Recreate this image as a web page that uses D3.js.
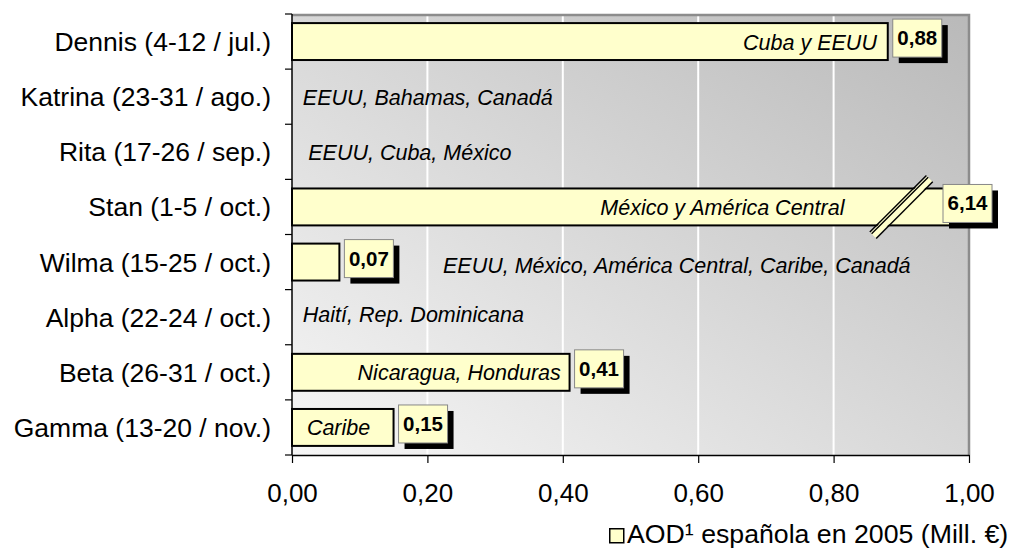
<!DOCTYPE html>
<html>
<head>
<meta charset="utf-8">
<script src="https://cdn.jsdelivr.net/npm/d3@7"></script>
<style>
  body { margin: 0; background: #fff; }
  svg { display: block; font-family: "Liberation Sans", Arial, sans-serif; }
</style>
</head>
<body>
<script>
const hurricanes = ['Dennis (4-12 / jul.)', 'Katrina (23-31 / ago.)', 'Rita (17-26 / sep.)', 'Stan (1-5 / oct.)',
                    'Wilma (15-25 / oct.)', 'Alpha (22-24 / oct.)', 'Beta (26-31 / oct.)', 'Gamma (13-20 / nov.)']
const aod = [0.88, null, null, 6.14, 0.07, null, 0.41, 0.15]
const regions = ['Cuba y EEUU', 'EEUU, Bahamas, Canadá', 'EEUU, Cuba, México', 'México y América Central',
                 'EEUU, México, América Central, Caribe, Canadá', 'Haití, Rep. Dominicana', 'Nicaragua, Honduras', 'Caribe']
const xTicks = [0, 0.2, 0.4, 0.6, 0.8, 1]
const legendLabel = 'AOD¹ española en 2005 (Mill. €)'

// where each region note sits: [value on the x scale, anchor, vertical nudge]
const noteLayout = [[0.864, 'end', 8], [0.016, 'start', 8], [0.024, 'start', 8], [0.816, 'end', 8],
                    [0.223, 'start', 11], [0.016, 'start', 5], [0.397, 'end', 8], [0.022, 'start', 8]]
const breakAt = 0.9

const W = 1011, H = 548
const pLeft = 292, pRight = 969, pTop = 14, pBottom = 455

const svg = d3.select('body').append('svg').attr('width', W).attr('height', H)

const x = d3.scaleLinear().domain([0, 1]).range([pLeft, pRight]).clamp(true)
const y = d3.scaleBand().domain(hurricanes).range([pTop, pBottom]).paddingInner(0.33).paddingOuter(0.165)
const fmt = d => d3.format('.2f')(d).replace('.', ',')

const defs = svg.append('defs')
const grad = defs.append('linearGradient').attr('id', 'bg')
                 .attr('x1', 0).attr('y1', 1).attr('x2', 1).attr('y2', 0)
grad.append('stop').attr('offset', 0).attr('stop-color', '#f6f6f6')
grad.append('stop').attr('offset', 1).attr('stop-color', '#b9b9b9')

// plot background
svg.append('rect')
   .attr('x', pLeft).attr('y', pTop)
   .attr('width', pRight - pLeft).attr('height', pBottom - pTop)
   .attr('fill', 'url(#bg)')

// grid
svg.append('g')
   .selectAll('line')
   .data(xTicks.slice(1, -1))
   .join('line')
    .attr('x1', d => x(d)).attr('x2', d => x(d))
    .attr('y1', pTop).attr('y2', pBottom)
    .attr('stroke', '#fff').attr('stroke-width', 2)

// gray frame top / right
svg.append('path')
   .attr('d', `M${pLeft},${pTop + 1}H${pRight}V${pBottom}`)
   .attr('fill', 'none').attr('stroke', '#8c8c8c').attr('stroke-width', 2.5)

// bars
svg.append('g')
   .selectAll('rect')
   .data(hurricanes.map((h, i) => ({h, v: aod[i]})).filter(d => d.v !== null))
   .join('rect')
    .attr('x', x(0))
    .attr('y', d => y(d.h))
    .attr('width', d => x(d.v) - x(0))
    .attr('height', y.bandwidth())
    .attr('fill', '#ffffcc')
    .attr('stroke', '#000')
    .attr('stroke-width', 2)

// break mark on the long bar
const stan = hurricanes[aod.findIndex(v => v > 1)]
const bx = x(breakAt), by = y(stan) + y.bandwidth() / 2
const brk = svg.append('g').attr('transform', `translate(${bx},${by}) rotate(-45)`)
brk.append('rect').attr('x', -40).attr('y', -3.5).attr('width', 80).attr('height', 7).attr('fill', '#ffffcc')
brk.selectAll('line')
   .data([-4.5, -2, 4.5])
   .join('line')
    .attr('x1', -40).attr('x2', 40)
    .attr('y1', d => d).attr('y2', d => d)
    .attr('stroke', '#000').attr('stroke-width', 1.4)

// region notes
svg.append('g')
   .selectAll('text')
   .data(regions)
   .join('text')
    .attr('x', (d, i) => x(noteLayout[i][0]))
    .attr('y', (d, i) => y(hurricanes[i]) + y.bandwidth() / 2 + noteLayout[i][2])
    .attr('text-anchor', (d, i) => noteLayout[i][1])
    .attr('font-size', 21.5)
    .attr('font-style', 'italic')
    .attr('fill', '#000')
    .text(d => d)

// value boxes
const vals = svg.append('g')
   .selectAll('g')
   .data(hurricanes.map((h, i) => ({h, v: aod[i]})).filter(d => d.v !== null))
   .join('g')
    .attr('transform', d => `translate(${d.v > 1 ? x(1) - 26 : x(d.v) + 5},${y(d.h) - 4})`)
vals.append('rect')
    .attr('x', 6).attr('y', 6).attr('width', 49).attr('height', 38).attr('fill', '#000')
vals.append('rect')
    .attr('width', 49).attr('height', 38)
    .attr('fill', '#ffffcc').attr('stroke', '#888').attr('stroke-width', 1)
vals.append('text')
    .attr('x', 24.5).attr('y', 26)
    .attr('text-anchor', 'middle')
    .attr('font-size', 20.5).attr('font-weight', 'bold')
    .text(d => fmt(d.v))

// y axis
const ya = svg.append('g')
ya.append('line')
  .attr('x1', pLeft).attr('x2', pLeft).attr('y1', pTop).attr('y2', pBottom)
  .attr('stroke', '#000').attr('stroke-width', 1.5)
ya.selectAll('line.tick')
  .data(d3.range(hurricanes.length + 1))
  .join('line')
   .attr('class', 'tick')
   .attr('x1', pLeft - 7).attr('x2', pLeft)
   .attr('y1', i => pTop + i * y.step()).attr('y2', i => pTop + i * y.step())
   .attr('stroke', '#000').attr('stroke-width', 1.2)
ya.selectAll('text')
  .data(hurricanes)
  .join('text')
   .attr('x', 271)
   .attr('y', d => y(d) + y.bandwidth() / 2 + 9.5)
   .attr('text-anchor', 'end')
   .attr('font-size', 26.5)
   .text(d => d)

// x axis
const xa = svg.append('g')
   .attr('transform', `translate(0,${pBottom})`)
   .call(d3.axisBottom(x).tickValues(xTicks).tickFormat(fmt).tickSize(8).tickSizeOuter(0))
xa.select('.domain').attr('stroke', '#000').attr('stroke-width', 1.5)
xa.selectAll('.tick line').attr('stroke', '#000').attr('stroke-width', 1.2)
xa.selectAll('.tick text')
  .attr('font-size', 26).attr('font-family', 'inherit')
  .attr('fill', '#000').attr('y', 0).attr('dy', 47)

// legend
const lg = svg.append('g').attr('transform', 'translate(609,528)')
lg.append('rect').attr('x', 0.75).attr('y', 0.75).attr('width', 14).attr('height', 14)
  .attr('fill', '#ffffcc').attr('stroke', '#000').attr('stroke-width', 1.5)
lg.append('text').attr('x', 18).attr('y', 15).attr('font-size', 26.7).text(legendLabel)
</script>
</body>
</html>
